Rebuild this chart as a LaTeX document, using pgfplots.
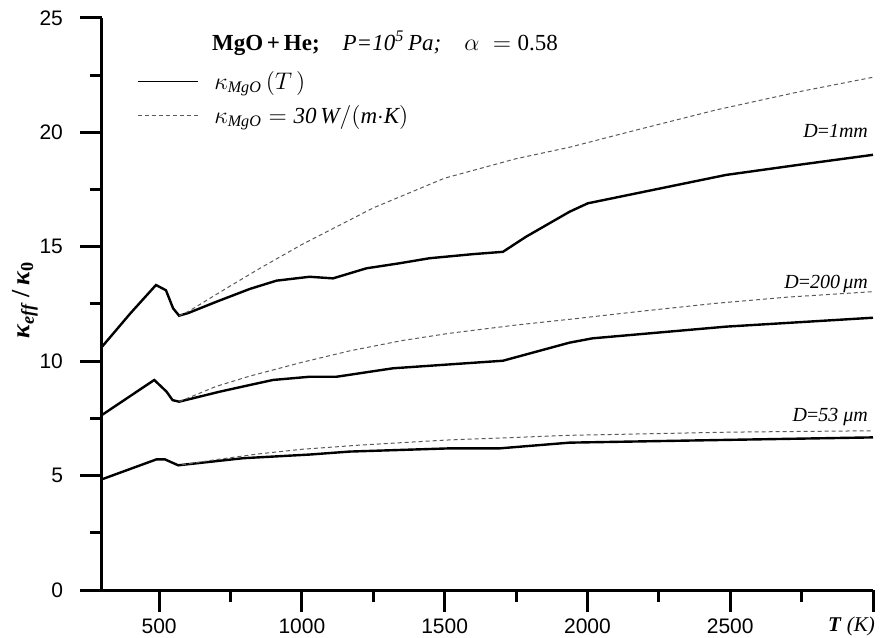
\documentclass[border=0pt]{standalone}
\usepackage{fontspec}
\setmainfont{Liberation Serif}
\setsansfont{Liberation Sans}
\usepackage{pgfplots}
\pgfplotsset{compat=1.18}
\tikzset{
  kT/.style={black, line width=1.2pt},
  kc/.style={black!65, line width=0.5pt, dash pattern=on 2pt off 1.5pt},
  lab/.style={anchor=east, font=\fontsize{10}{12}\selectfont},
}
\begin{document}
\begin{tikzpicture}
\begin{axis}[
  name=ax,
  scale only axis, width=385.5pt, height=286pt,
  xmin=300, xmax=3000, ymin=0, ymax=25,
  axis lines=left, axis line style={line width=1.5pt, -},
  xtick={500,1000,1500,2000,2500,3000},
  xticklabels={500,1000,1500,2000,2500,{}},
  minor xtick={750,1250,1750,2250,2750},
  ytick={0,5,10,15,20,25},
  minor ytick={2.5,7.5,12.5,17.5,22.5},
  tick align=outside, major tick length=11pt, minor tick length=6pt,
  every tick/.style={line width=1.5pt, black},
  tick label style={font=\sffamily\fontsize{10.5}{12}\selectfont},
  yticklabel style={xshift=-5pt},
  /pgf/number format/assume math mode=true,
  clip=false,
  legend style={draw=none, fill=none, at={(rel axis cs:0.045,0.915)}, anchor=north west,
    font=\fontsize{11.5}{13}\selectfont, row sep=2.5pt, inner sep=0pt},
  legend cell align=left,
  legend image code/.code={\draw[#1, line width=0.6pt] (0pt,0pt) -- (30pt,0pt);},
]
% D = 1 mm
\addplot[kT] coordinates {(300,10.63)(400,12.1)(489,13.33)(524,13.1)(549,12.31)(570,11.99)(601,12.1)(701,12.6)(818,13.16)(911,13.52)(1027,13.69)(1109,13.62)(1226,14.06)(1342,14.28)(1447,14.5)(1600,14.68)(1704,14.78)(1785,15.44)(1937,16.53)(2001,16.9)(2200,17.41)(2485,18.14)(2750,18.6)(3000,19.02)};
\addlegendentry{\hspace{6pt}$\kappa_{\mathit{MgO}}\left(T\,\right)$}
\addplot[kc] coordinates {(570,11.99)(602,12.17)(736,13.19)(853,14.06)(1000,15.1)(1250,16.7)(1500,18.0)(1750,18.85)(1937,19.35)(2170,20.1)(2450,20.98)(2750,21.8)(3000,22.41)};
\addlegendentry{\hspace{6pt}$\kappa_{\mathit{MgO}} = \mathit{30\,W/(m{\cdot}K)}$}
% D = 200 um
\addplot[kT, forget plot] coordinates {(300,7.65)(483,9.18)(526,8.67)(547,8.3)(570,8.23)(713,8.67)(818,8.96)(899,9.18)(1027,9.32)(1121,9.32)(1319,9.69)(1517,9.86)(1704,10.02)(1937,10.81)(2018,11.0)(2485,11.51)(3000,11.9)};
\addplot[kc, forget plot] coordinates {(570,8.23)(700,8.9)(818,9.35)(1000,9.95)(1167,10.45)(1350,10.9)(1517,11.22)(1750,11.58)(1937,11.83)(2200,12.2)(2450,12.53)(2700,12.8)(3000,13.04)};
% D = 53 um
\addplot[kT, forget plot] coordinates {(300,4.84)(491,5.71)(520,5.71)(567,5.45)(596,5.49)(794,5.76)(1027,5.92)(1167,6.05)(1517,6.19)(1692,6.19)(1937,6.44)(2485,6.56)(3000,6.67)};
\addplot[kc, forget plot] coordinates {(580,5.47)(700,5.7)(850,5.95)(1000,6.15)(1200,6.33)(1500,6.55)(1937,6.76)(2500,6.9)(3000,6.96)};
\end{axis}
% text, placed from the plot box corner (1pt = 2px of the reference)
\node[anchor=west, font=\fontsize{11.5}{13}\selectfont] at ([shift={(51.5pt,273.5pt)}]ax.south west)
  {\textbf{MgO\,+\,He;}\quad \textit{P=10\textsuperscript{5}\,Pa;}\quad $\alpha\;=\;$0.58};
\node[lab] at ([shift={(386.5pt,229.5pt)}]ax.south west) {\textit{D}=\textit{1mm}};
\node[lab] at ([shift={(386.5pt,153.25pt)}]ax.south west) {\textit{D}=\textit{200\,μm}};
\node[lab] at ([shift={(386.5pt,86.5pt)}]ax.south west) {\textit{D}=\textit{53 μm}};
\node[rotate=90, font=\bfseries\fontsize{13}{15}\selectfont] at ([shift={(-38.5pt,145pt)}]ax.south west)
  {\textit{κ}\textsubscript{\textit{eff}}\,/\,\textit{κ}\textsubscript{0}};
\node[anchor=base east, font=\fontsize{10.5}{12}\selectfont] at ([shift={(390pt,-20.5pt)}]ax.south west)
  {\textbf{\textit{T}}\ \textit{(K)}};
\pgfresetboundingbox
\path[use as bounding box] ([shift={(-51pt,-23.5pt)}]ax.south west) rectangle ([shift={(5pt,9pt)}]ax.north east);
\end{tikzpicture}
\end{document}
